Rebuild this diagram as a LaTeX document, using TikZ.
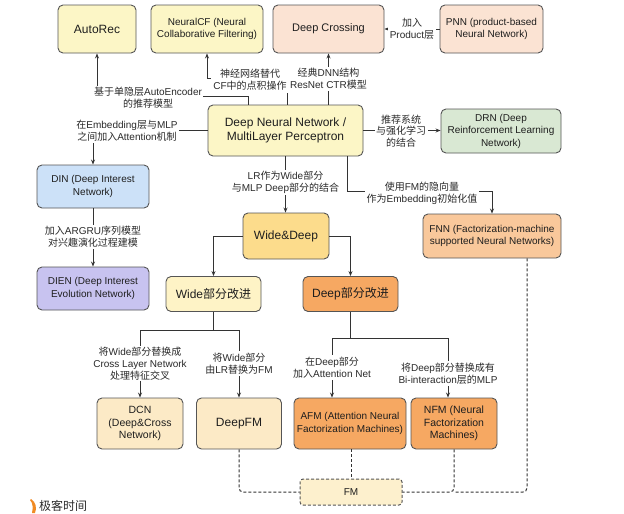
\documentclass[tikz,border=0pt]{standalone}
\usepackage{fontspec}
\setmainfont{Liberation Sans}
\newfontfamily\cjk{Noto Sans CJK SC}
\newcommand\zh[1]{{\cjk #1}}
\usetikzlibrary{arrows.meta,calc}
\definecolor{bdr}{HTML}{555555}
\definecolor{ln}{HTML}{333333}
\definecolor{txt}{HTML}{1E1E1E}
\definecolor{lbltxt}{HTML}{2A2A2A}
\definecolor{cYel}{HTML}{FCF6C6}
\definecolor{cPeach}{HTML}{FBE3D3}
\definecolor{cGreen}{HTML}{D9E8D3}
\definecolor{cBlue}{HTML}{CCE1F8}
\definecolor{cPurp}{HTML}{C8C3F0}
\definecolor{cWD}{HTML}{FCDC8C}
\definecolor{cFNN}{HTML}{F9C89B}
\definecolor{cWimp}{HTML}{FEF3C6}
\definecolor{cOrange}{HTML}{F6A862}
\definecolor{cBeige}{HTML}{FCEAC6}
\definecolor{cFM}{HTML}{FDF0CD}
\definecolor{cLogo}{HTML}{F08A24}
\begin{document}
\begin{tikzpicture}[x=1pt,y=-1pt,
  box/.style={draw=bdr, line width=0.9pt, rounded corners=5pt, align=center, inner sep=1pt, text=txt},
  fa/.style={font=\fontsize{10}{12.5}\selectfont},
  fb/.style={font=\fontsize{10.5}{12.5}\selectfont},
  fc/.style={font=\fontsize{11}{13}\selectfont},
  fd/.style={font=\fontsize{12}{13.5}\selectfont},
  lbl/.style={fill=white, inner sep=1.5pt, align=center, font=\fontsize{10}{11.8}\selectfont, text=lbltxt},
  arr/.style={draw=ln, line width=0.8pt, -{Stealth[length=5pt,width=4pt]}},
  dsh/.style={draw=ln, line width=1pt, dash pattern=on 3pt off 2pt}]
\useasboundingbox (0,0) rectangle (624,514);

% ---- nodes ----
\node[box, fill=cYel, minimum width=78pt, minimum height=48pt, fd] (autorec) at (97,29) {AutoRec};
\node[box, fill=cYel, minimum width=112pt, minimum height=48pt, fa] (ncf) at (207,29) {NeuralCF (Neural\\Collaborative Filtering)};
\node[box, fill=cPeach, minimum width=111pt, minimum height=48pt, fc] (dcross) at (328.5,29) {Deep Crossing};
\node[box, fill=cPeach, minimum width=103pt, minimum height=48pt, fa] (pnn) at (491.5,29) {PNN (product-based\\Neural Network)};
\node[box, fill=cYel, minimum width=155pt, minimum height=51pt, fd] (dnn) at (285.5,130.5) {Deep Neural Network /\\MultiLayer Perceptron};
\node[box, fill=cGreen, minimum width=120pt, minimum height=44pt, fa] (drn) at (501,131) {DRN (Deep\\Reinforcement Learning\\Network)};
\node[box, fill=cBlue, minimum width=112pt, minimum height=43pt, fa] (din) at (93,186.5) {DIN (Deep Interest\\Network)};
\node[box, fill=cPurp, minimum width=112pt, minimum height=43pt, fa] (dien) at (93,288.5) {DIEN (Deep Interest\\Evolution Network)};
\node[box, fill=cWD, minimum width=86pt, minimum height=46pt, fd] (wd) at (286,236) {Wide\&Deep};
\node[box, fill=cFNN, minimum width=138pt, minimum height=44pt, fa] (fnn) at (492,236) {FNN (Factorization-machine\\supported Neural Networks)};
\node[box, fill=cWimp, minimum width=95pt, minimum height=35pt, fd] (wimp) at (213.5,294) {Wide\zh{部分改进}};
\node[box, fill=cOrange, minimum width=95pt, minimum height=35pt, fd] (dimp) at (350.5,294) {Deep\zh{部分改进}};
\node[box, fill=cBeige, minimum width=86pt, minimum height=51pt, fb] (dcn) at (140,423.5) {DCN\\(Deep\&Cross\\Network)};
\node[box, fill=cBeige, minimum width=85pt, minimum height=51pt, fd] (deepfm) at (239,423.5) {DeepFM};
\node[box, fill=cOrange, minimum width=112pt, minimum height=51pt, fa] (afm) at (350,423.5) {AFM (Attention Neural\\Factorization Machines)};
\node[box, fill=cOrange, minimum width=86pt, minimum height=51pt, fb] (nfm) at (454,423.5) {NFM (Neural\\Factorization\\Machines)};
\node[box, fill=cFM, line width=1pt, dash pattern=on 3pt off 2pt, rounded corners=3pt, minimum width=102pt, minimum height=26pt, fa] (fm) at (351,492) {FM};

% ---- connectors ----
\draw[arr] ([xshift=-37.5pt]dnn.north) -- ++(0,-8) -| (autorec.south);
\draw[arr] ([xshift=1.5pt]dnn.north) -- ++(0,-26) -| (ncf.south);
\draw[arr] (dnn.north -| dcross.south) -- (dcross.south);
\draw[arr] (pnn.west) -- (pnn.west -| dcross.east);
\draw[arr] (dnn.west) -| (din.north);
\draw[arr] (dnn.east) -- (dnn.east -| drn.west);
\draw[arr] (dnn.south) -- (dnn.south |- wd.north);
\draw[arr] ([xshift=61.5pt]dnn.south) -- ++(0,35) -| (fnn.north);
\draw[arr] (din.south) -- (dien.north);
\draw[arr] (wd.west) -| (wimp.north);
\draw[arr] (wd.east) -| (dimp.north);
\draw[ln, line width=0.8pt] (wimp.south) -- ++(0,18) coordinate (wj);
\draw[arr] (wj) -| (dcn.north);
\draw[arr] (wj) -| (deepfm.north);
\draw[ln, line width=0.8pt] (dimp.south) -- ++(0,26) coordinate (dj);
\draw[arr] (dj) -| ([xshift=-18pt]afm.north);
\draw[arr] (dj) -| ([xshift=-6pt]nfm.north);

% dashed
\draw[dsh, rounded corners=4pt] (deepfm.south) |- (fm.west);
\draw[dsh] (fm.north |- afm.south) -- (fm.north);
\draw[dsh, rounded corners=4pt] ([xshift=35pt]fnn.south) |- (nfm.south |- fm.east);
\draw[dsh, rounded corners=4pt] (nfm.south) |- (fm.east);

% ---- labels ----
\node[lbl] (l1) at (148,98) {\zh{基于单隐层}AutoEncoder\\\zh{的推荐模型}};
\node[lbl, inner sep=2.5pt] (l2) at (250,80) {\zh{神经网络替代}\\CF\zh{中的点积操作}};
\node[lbl] (l3) at (328.5,79) {\zh{经典}DNN\zh{结构}\\ResNet CTR\zh{模型}};
\node[lbl] (l4) at (412,29) {\zh{加入}\\Product\zh{层}};
\node[lbl] (l5) at (127,130.5) {\zh{在}Embedding\zh{层与}MLP\\\zh{之间加入}Attention\zh{机制}};
\node[lbl] (l6) at (401,131) {\zh{推荐系统}\\\zh{与强化学习}\\\zh{的结合}};
\node[lbl] (l7) at (285.5,182.5) {LR\zh{作为}Wide\zh{部分}\\\zh{与}MLP Deep\zh{部分的结合}};
\node[lbl] (l8) at (422,193) {\zh{使用}FM\zh{的隐向量}\\\zh{作为}Embedding\zh{初始化值}};
\node[lbl] (l9) at (93,237) {\zh{加入}ARGRU\zh{序列模型}\\\zh{对兴趣演化过程建模}};
\node[lbl] (l10) at (140,363.5) {\zh{将}Wide\zh{部分替换成}\\Cross Layer Network\\\zh{处理特征交叉}};
\node[lbl] (l11) at (239,363.5) {\zh{将}Wide\zh{部分}\\\zh{由}LR\zh{替换为}FM};
\node[lbl] (l12) at (332,367.5) {\zh{在}Deep\zh{部分}\\\zh{加入}Attention Net};
\node[lbl] (l13) at (448,373.5) {\zh{将}Deep\zh{部分替换成有}\\Bi-interaction\zh{层的}MLP};

% ---- logo ----
\fill[cLogo] (31,499) .. controls (36,502) and (37,508) .. (35,513) -- (32,513) .. controls (33,508) and (33,503) .. (30,500) -- cycle;
\node[anchor=west, inner sep=0pt, text=lbltxt, font=\cjk\fontsize{12}{12}\selectfont] (logo) at (39,506) {极客时间};
\end{tikzpicture}
\end{document}
